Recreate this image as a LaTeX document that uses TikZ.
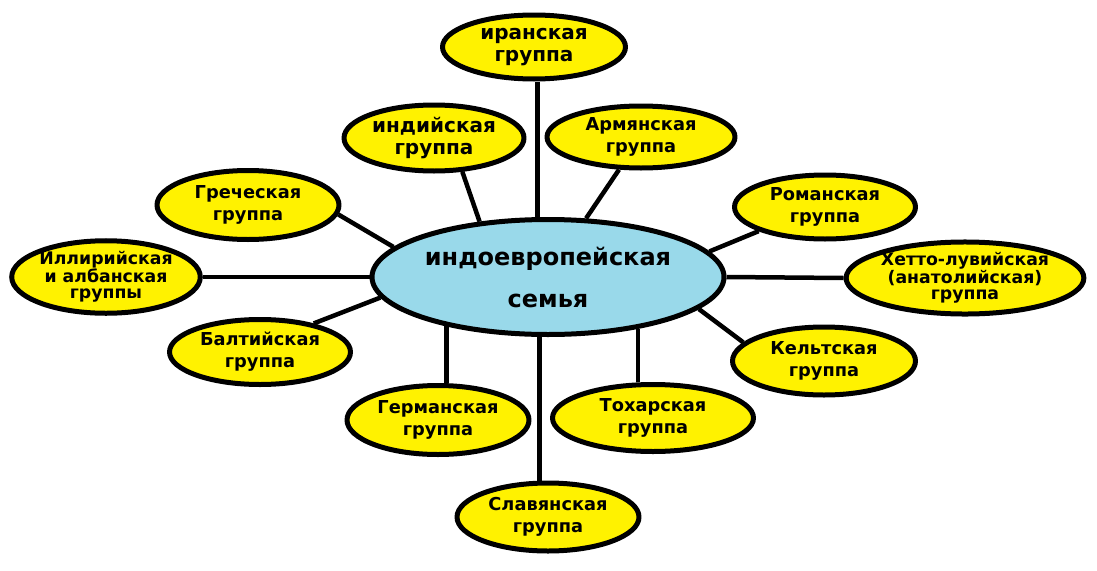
\documentclass[tikz,border=0pt]{standalone}
\usepackage{fontspec}
\setmainfont{DejaVu Sans}
\usetikzlibrary{shapes.geometric}
\definecolor{grpyellow}{RGB}{255,242,0}
\definecolor{famblue}{RGB}{153,217,234}
\begin{document}
\begin{tikzpicture}[x=1pt, y=-1pt, line join=round,
  grp/.style={ellipse, draw, line width=5pt, fill=grpyellow, inner sep=0pt, align=center,
    font=\bfseries\fontsize{17.8}{22}\selectfont},
  bigtext/.style={font=\bfseries\fontsize{20}{22}\selectfont},
  tighttext/.style={font=\bfseries\fontsize{17.3}{16}\selectfont},
  fam/.style={ellipse, draw, line width=5pt, fill=famblue, inner sep=0pt, align=center,
    font=\bfseries\fontsize{24}{42}\selectfont},
  link/.style={line width=4.5pt, line cap=butt}]
\useasboundingbox (0,0) rectangle (1097,570);

% семья в центре
\node[fam, minimum width=352, minimum height=115] (fam) at (548,277) {индоевропейская\\семья};

% группы сверху
\node[grp, bigtext, minimum width=183, minimum height=64] (iran) at (534,47) {иранская\\группа};
\node[grp, bigtext, minimum width=180, minimum height=66] (ind) at (434,138) {индийская\\группа};
\node[grp, minimum width=188, minimum height=62] (arm) at (641,137) {Армянская\\группа};
\node[grp, minimum width=182, minimum height=69] (grec) at (248,205) {Греческая\\группа};
\node[grp, minimum width=181, minimum height=64] (roman) at (825,207) {Романская\\группа};

% группы по бокам
\node[grp, tighttext, minimum width=183, minimum height=70] (illyr) at (106,277) {Иллирийская\\и албанская\\группы};
\node[grp, tighttext, minimum width=230, minimum height=66] (hett) at (965,278) {Хетто-лувийская\\(анатолийская)\\группа};

% группы снизу
\node[grp, minimum width=181, minimum height=65] (balt) at (260,352) {Балтийская\\группа};
\node[grp, minimum width=183, minimum height=68] (kelt) at (824,361) {Кельтская\\группа};
\node[grp, minimum width=182, minimum height=69] (germ) at (438,420) {Германская\\группа};
\node[grp, minimum width=201, minimum height=67] (toch) at (653,418) {Тохарская\\группа};
\node[grp, minimum width=182, minimum height=68] (slav) at (548,517) {Славянская\\группа};

% связи
\draw[link] (fam.100) -- (fam.100 |- iran.south);
\draw[link] (fam.141) -- (ind.-50);
\draw[link] (fam.57) -- (arm.-124);
\draw[link] (fam.169) -- (grec.-6);
\draw[link] (fam.west) -- (illyr.east);
\draw[link] (fam.187) -- (balt.28);
\draw[link] (fam.9) -- (roman.-160);
\draw[link] (fam.east) -- (hett.west);
\draw[link] (fam.-12) -- (kelt.167);
\draw[link] (fam.-154) -- (fam.-154 |- germ.north);
\draw[link] (fam.-30) -- (fam.-30 |- toch.north);
\draw[link] (fam.-98) -- (fam.-98 |- slav.north);
\end{tikzpicture}
\end{document}
